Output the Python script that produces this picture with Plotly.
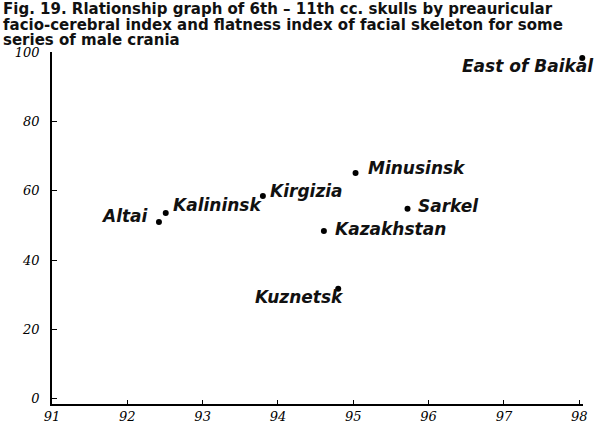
import plotly.graph_objects as go

# Data
series_names = ["Altai", "Kalininsk", "Kirgizia", "Minusinsk", "Sarkel",
                "Kazakhstan", "Kuznetsk", "East of Baikal"]
facio_cerebral_index = [92.42, 92.51, 93.80, 95.03, 95.72, 94.61, 94.80, 98.04]
flatness_index = [51.0, 53.6, 58.5, 65.1, 54.8, 48.4, 31.7, 98.3]
x_ticks = [91, 92, 93, 94, 95, 96, 97, 98]
y_ticks = [0, 20, 40, 60, 80, 100]
title_lines = [
    "Fig. 19. Rlationship graph of 6th – 11th cc. skulls by preauricular",
    "facio-cerebral index and flatness index of facial skeleton for some",
    "series of male crania",
]

# Label placement styles (anchor, xshift, yshift) per point
label_style = [
    ("right", -8, 6),
    ("left", 5, 8),
    ("left", 5, 5),
    ("left", 10, 5),
    ("left", 8, 3),
    ("left", 9, 2),
    ("right", 8, -8),
    ("right", 14, -8),
]

fig = go.Figure()
fig.add_trace(go.Scatter(
    x=facio_cerebral_index, y=flatness_index, mode="markers",
    marker=dict(color="black", size=6),
    cliponaxis=False, hoverinfo="skip", showlegend=False,
))

label_font = dict(family="DejaVu Sans", size=17, color="#111", style="italic",
                  weight="bold")
for name, xv, yv, (anc, xs, ys) in zip(series_names, facio_cerebral_index,
                                        flatness_index, label_style):
    fig.add_annotation(x=xv, y=yv, xref="x", yref="y", text=name,
                       showarrow=False, xanchor=anc, yanchor="middle",
                       xshift=xs, yshift=ys, font=label_font)

for i, line in enumerate(title_lines):
    fig.add_annotation(x=0, y=1, xref="paper", yref="paper", text=line,
                       showarrow=False, xanchor="left", yanchor="middle",
                       xshift=-51, yshift=43 - 15.5 * i,
                       font=dict(family="DejaVu Sans", size=15, color="#111",
                                 weight="bold"))

tick_font = dict(family="DejaVu Serif", size=13, color="black", style="italic")
fig.update_xaxes(range=[91, 98.05], tickvals=x_ticks,
                 ticktext=[str(v) for v in x_ticks], automargin=False,
                 showgrid=False, zeroline=False, showline=True,
                 linecolor="black", linewidth=1.5, ticks="inside",
                 ticklen=4, tickcolor="black", tickfont=tick_font)
fig.update_yaxes(range=[-1.5, 100], tickvals=y_ticks,
                 ticktext=[str(v) for v in y_ticks], automargin=False,
                 showgrid=False, zeroline=False, showline=True,
                 linecolor="black", linewidth=1.5, ticks="inside",
                 ticklen=5, tickcolor="black", tickfont=tick_font,
                 ticklabelstandoff=8)
fig.update_layout(
    width=600, height=429,
    margin=dict(l=52, r=17, t=52, b=25, autoexpand=False),
    plot_bgcolor="white", paper_bgcolor="white",
)
fig.write_html("out.html", config={"displayModeBar": False},
               post_script="document.body.style.margin='0';")
